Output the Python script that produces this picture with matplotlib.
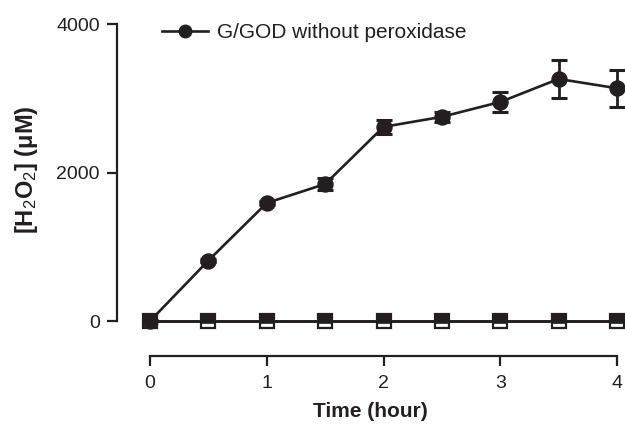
import matplotlib
matplotlib.use("Agg")
import matplotlib.pyplot as plt
from matplotlib.path import Path
from matplotlib.lines import Line2D

plt.rcParams['font.family'] = ['Liberation Sans', 'DejaVu Sans']
plt.rcParams['mathtext.fontset'] = 'custom'
plt.rcParams['mathtext.rm'] = 'Liberation Sans'
plt.rcParams['mathtext.bf'] = 'Liberation Sans:bold'
plt.rcParams['mathtext.it'] = 'Liberation Sans:italic'

time_h = [0, 0.5, 1, 1.5, 2, 2.5, 3, 3.5, 4]
h2o2_no_perox = [0, 815, 1590, 1845, 2615, 2750, 2950, 3260, 3135]
h2o2_no_perox_err = [0, 20, 30, 75, 95, 65, 140, 260, 250]
h2o2_with_perox = [0, 0, 0, 0, 0, 0, 0, 0, 0]
h2o2_control = [0, 0, 0, 0, 0, 0, 0, 0, 0]
legend_label = "G/GOD without peroxidase"
x_ticks = [0, 1, 2, 3, 4]
y_ticks = [0, 2000, 4000]

INK = '#231f20'

fig = plt.figure(figsize=(6.25, 4.26), dpi=100)
ax = fig.add_axes([117/625, 70/426, 507/625, 336/426])

# open squares (control)
ax.plot(time_h, h2o2_control, color=INK, lw=1.9, marker='s', ms=10,
        mfc='white', mec=INK, mew=1.6, zorder=3)
# filled squares (upper part drawn filled, overlapping open squares)
top_rect = Path([(-1, -0.25), (1, -0.25), (1, 1), (-1, 1), (-1, -0.25)],
                [Path.MOVETO, Path.LINETO, Path.LINETO, Path.LINETO, Path.CLOSEPOLY])
ax.plot(time_h, h2o2_with_perox, color=INK, lw=1.9, marker=top_rect, ms=10,
        mfc=INK, mec=INK, mew=0.5, zorder=4)
# circles with error bars
ax.errorbar(time_h, h2o2_no_perox, yerr=h2o2_no_perox_err, color=INK,
            lw=1.9, marker='o', ms=10.8, mfc=INK, mec=INK,
            capsize=6, capthick=2.2, elinewidth=2, zorder=5)

ax.set_xlim(-0.283, 4.06)
ax.set_ylim(-471, 4054)

for s in ['top', 'right']:
    ax.spines[s].set_visible(False)
ax.spines['left'].set_bounds(0, 4000)
ax.spines['bottom'].set_bounds(0, 4)
for s in ['left', 'bottom']:
    ax.spines[s].set_linewidth(1.6)
    ax.spines[s].set_color(INK)

ax.set_xticks(x_ticks)
ax.set_yticks(y_ticks)
ax.tick_params(axis='both', direction='out', length=7, width=1.6,
               labelsize=14, colors=INK)
ax.tick_params(axis='x', pad=7)
ax.tick_params(axis='y', pad=5.5)

ax.set_xlabel("Time (hour)", fontsize=15, fontweight='bold', labelpad=7, color=INK)
ylabel = r"$\mathbf{[H}_{\mathrm{2}}\mathbf{O}_{\mathrm{2}}\mathbf{]\ (\mu M)}$"
fig.text(26/625, 1 - 170/426, ylabel,
         fontsize=17, rotation=90, ha='center', va='center', color=INK)

handle = Line2D([], [], color=INK, lw=1.9, marker='o', ms=9, mfc=INK, mec=INK)
ax.legend([handle], [legend_label], loc='upper left', frameon=False, fontsize=15,
          bbox_to_anchor=(162/625, 1 - 23/426), bbox_transform=fig.transFigure,
          handlelength=2.21, handletextpad=0.43, borderaxespad=0, borderpad=0,
          labelcolor=INK)

fig.savefig("out.png", dpi=100)
